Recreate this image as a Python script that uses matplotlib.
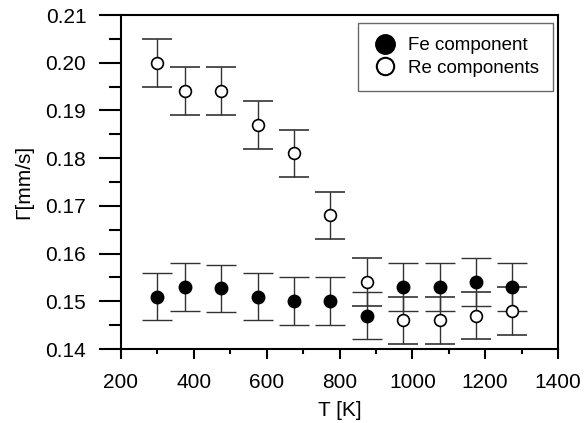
import matplotlib
matplotlib.use("Agg")
import matplotlib.pyplot as plt
from matplotlib.ticker import MultipleLocator
from matplotlib.lines import Line2D

plt.rcParams['font.family'] = ['Liberation Sans', 'DejaVu Sans']

T = [300, 375, 475, 575, 675, 775, 875, 975, 1075, 1175, 1275]
fe = [0.151, 0.153, 0.1527, 0.151, 0.150, 0.150, 0.147, 0.153, 0.153, 0.154, 0.153]
fe_err = [0.005] * 11
re = [0.200, 0.194, 0.194, 0.187, 0.181, 0.168, 0.154, 0.146, 0.146, 0.147, 0.148]
re_err = [0.005] * 11
yticks = [0.14, 0.15, 0.16, 0.17, 0.18, 0.19, 0.20, 0.21]
ytick_labels = ['0.14', '0.15', '0.16', '0.17', '0.18', '0.19', '0.20', '0.21']

fig = plt.figure(figsize=(5.86, 4.23), dpi=100)
ax = fig.add_axes([121/586, 1-349/423, (558-121)/586, (349-15)/423])

ax.errorbar(T, fe, yerr=fe_err, fmt='o', color='black', ecolor='#333333',
            elinewidth=1, capsize=11, capthick=1, markersize=9, zorder=3)
ax.errorbar(T, re, yerr=re_err, fmt='o', color='black', mfc='white', mec='black',
            mew=1.2, ecolor='#333333', elinewidth=1, capsize=11, capthick=1,
            markersize=8.5, zorder=3)

ax.set_xlim(200, 1400)
ax.set_ylim(0.14, 0.21)
ax.xaxis.set_major_locator(MultipleLocator(200))
ax.xaxis.set_minor_locator(MultipleLocator(100))
ax.set_yticks(yticks)
ax.set_yticklabels(ytick_labels)
ax.yaxis.set_minor_locator(MultipleLocator(0.005))
ax.tick_params(axis='y', which='major', direction='out', length=16, width=1.5, labelsize=15, pad=9)
ax.tick_params(axis='y', which='minor', direction='out', length=8.5, width=1.5)
ax.tick_params(axis='x', which='major', direction='out', length=7.5, width=1.5, labelsize=15, pad=10)
ax.tick_params(axis='x', which='minor', direction='out', length=3.6, width=1.5)
for s in ax.spines.values():
    s.set_linewidth(1.5)

ax.set_xlabel('T [K]', fontsize=15, labelpad=6)
ax.set_ylabel('Γ[mm/s]', fontsize=15, labelpad=9)

handles = [
    Line2D([], [], marker='o', linestyle='none', color='black', markersize=14, label='Fe component'),
    Line2D([], [], marker='o', linestyle='none', mfc='white', mec='black', mew=1.5,
           markersize=12.5, label='Re components'),
]
leg = ax.legend(handles=handles, loc='upper right', bbox_to_anchor=(0.9886, 0.976),
                fontsize=13.5, frameon=True, fancybox=False, edgecolor='#444444',
                borderpad=0.75, handletextpad=0.5, handlelength=1.4, labelspacing=0.3,
                borderaxespad=0.0)
leg.get_frame().set_linewidth(1.0)

fig.savefig('out.png', dpi=100)
